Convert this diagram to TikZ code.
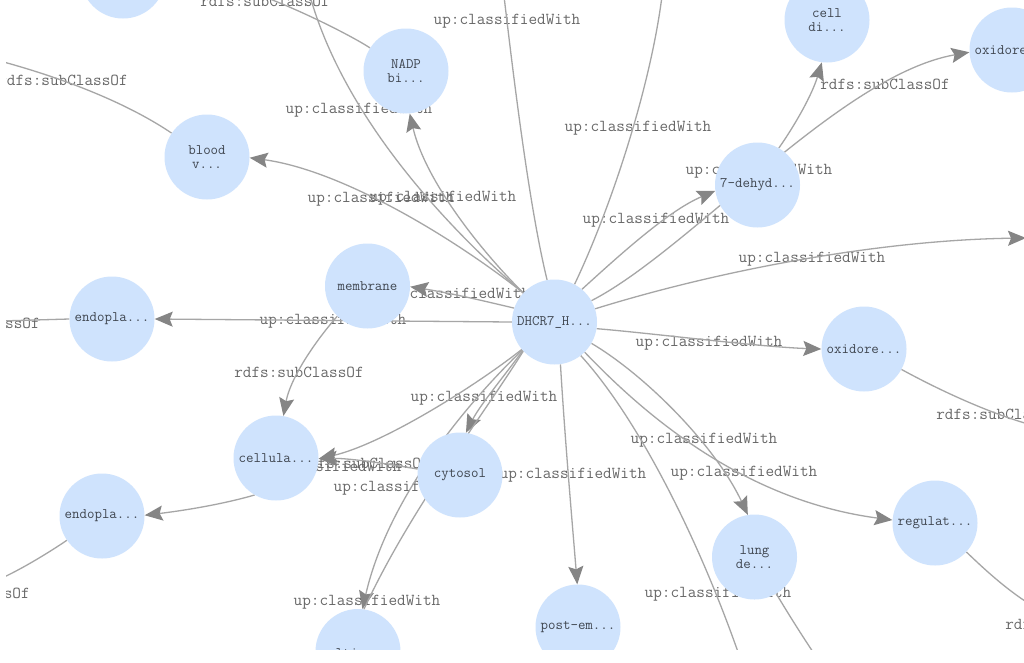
\documentclass[tikz,border=0pt]{standalone}
\usetikzlibrary{arrows.meta}
\pgfdeclarelayer{edgelayer}
\pgfdeclarelayer{masklayer}
\pgfsetlayers{edgelayer,main,masklayer}
\definecolor{nodeblue}{HTML}{CFE3FD}
\definecolor{edgegray}{HTML}{A6A6A6}
\definecolor{tipgray}{HTML}{858585}
\definecolor{labelgray}{HTML}{686868}
\definecolor{nodetext}{HTML}{3F4650}
\tikzset{
  ball/.style={circle,fill=nodeblue,draw=none,minimum size=85pt,inner sep=0pt,align=center,
    font=\ttfamily\fontsize{14.5}{13.5}\selectfont,text=nodetext},
  link/.style={draw=edgegray,line width=1.3pt},
  arr/.style={link,-{Stealth[length=18pt,width=15pt,inset=3pt,color=tipgray]}},
  elabel/.style={font=\ttfamily\fontsize{16.75}{15}\selectfont,text=labelgray,inner sep=0pt}
}
\begin{document}
\begin{tikzpicture}[x=1pt,y=-1pt]
\path[use as bounding box] (0,0) rectangle (1024,662);
% nodes
\node[ball] (dhcr) at (554.5,322) {DHCR7\_H...};
\node[ball] (memb) at (367.5,286) {membrane};
\node[ball] (blood) at (207,157) {blood\\v...};
\node[ball] (nadp) at (406,71) {NADP\\bi...};
\node[ball] (endoa) at (112,319) {endopla...};
\node[ball] (cellu) at (276,458) {cellula...};
\node[ball] (cyto) at (460,475) {cytosol};
\node[ball] (endob) at (102,516) {endopla...};
\node[ball] (topl) at (123,-24) {};
\node[ball] (celldi) at (827,20) {cell\\di...};
\node[ball] (oxia) at (1012,50) {oxidore...};
\node[ball] (dehyd) at (757.5,185) {7-dehyd...};
\node[ball] (oxib) at (864,349) {oxidore...};
\node[ball] (regul) at (935,523) {regulat...};
\node[ball] (lung) at (754.5,557) {lung\\de...};
\node[ball] (postem) at (578,627) {post-em...};
\node[ball] (multi) at (358,651.5) {\raisebox{-6pt}[0pt][0pt]{multice...}};
% free ends
\coordinate (fa) at (310,-4);
\coordinate (fb) at (504,-4);
\coordinate (fc) at (662,-4);
\coordinate (fd) at (1026,238);
\coordinate (fe) at (738,652);
\coordinate (ff) at (813,652);
\coordinate (fg) at (262,-4);
\coordinate (fh) at (0,61);
\coordinate (fi) at (0,321);
\coordinate (fj) at (0,579);
\coordinate (fk) at (1028,424);
\coordinate (fl) at (1028,603);
\begin{pgfonlayer}{edgelayer}
\fill[white] (0,0) rectangle (1024,662);
% labels
\foreach \x/\y in {507/21,359/110,638/128,759/171,656/220,812/259,709/343,381/199,443/198,457/295,333/321,484/398,328/468,407/488,573/475,704/440,744/473,718/594,367/602}
  \node[elabel] at (\x,\y) {up:classifiedWith};
\foreach \x/\y in {265/1,63/80,299/372,365/463,885/84,1001/414,1070/624,-25/323,-35/593}
  \node[elabel] at (\x,\y) {rdfs:subClassOf};
% edges from the centre
\draw[arr] (dhcr.161) .. controls (480,300) and (450,293) .. (memb.-1);
\draw[arr] (dhcr.180) -- (endoa.0);
\draw[arr] (dhcr.137) .. controls (450,235) and (340,170) .. (blood.-1);
\draw[arr] (dhcr.137) .. controls (480,250) and (425,180) .. (nadp.-85);
\draw[link] (dhcr.137) .. controls (450,230) and (345,120) .. (fa);
\draw[link] (dhcr.100) .. controls (530,210) and (515,90) .. (fb);
\draw[link] (dhcr.62) .. controls (610,210) and (650,90) .. (fc);
\draw[arr] (dhcr.50) .. controls (625,250) and (670,210) .. (dehyd.188);
\draw[arr] (dhcr.30) .. controls (690,250) and (840,75) .. (oxia.183);
\draw[arr] (dhcr.18) .. controls (720,270) and (880,240) .. (fd);
\draw[arr] (dhcr.-9) .. controls (650,333) and (760,347) .. (oxib.180);
\draw[arr] (dhcr.-45) .. controls (640,410) and (740,500) .. (regul.176);
\draw[arr] (dhcr.-30) .. controls (645,375) and (715,445) .. (lung.99);
\draw[link] (dhcr.-52) .. controls (635,415) and (695,530) .. (fe);
\draw[arr] (dhcr.-82) .. controls (565,440) and (572,520) .. (postem.91);
\draw[arr] (dhcr.222) .. controls (505,375) and (480,405) .. (cyto.82);
\draw[arr] (dhcr.220) .. controls (470,390) and (380,445) .. (cellu.-1);
\draw[arr] (dhcr.221) .. controls (450,420) and (385,510) .. (multi.84);
\draw[link] (dhcr.223) .. controls (480,420) and (410,510) .. (multi.82);
% other edges
\draw[arr] (dehyd.60) .. controls (795,125) and (812,95) .. (celldi.263);
\draw[arr] (memb.225) .. controls (312,345) and (290,380) .. (cellu.80);
\draw[arr] (cyto.172) .. controls (395,465) and (350,458) .. (cellu.-1);
\draw[arr] (cellu.240) .. controls (220,505) and (180,511) .. (endob.1);
\draw[link] (nadp) .. controls (350,35) and (300,10) .. (fg);
\draw[link] (blood) .. controls (130,105) and (70,80) .. (fh);
\draw[link] (endoa.180) -- (fi);
\draw[link] (endob) .. controls (60,545) and (30,565) .. (fj);
\draw[link] (oxib) .. controls (930,385) and (980,410) .. (fk);
\draw[link] (regul) .. controls (975,560) and (1000,585) .. (fl);
\draw[link] (lung) .. controls (780,600) and (795,625) .. (ff);
\end{pgfonlayer}
\begin{pgfonlayer}{masklayer}
\fill[white] (-2,650) rectangle (1026,680);
\fill[white] (-2,-2) rectangle (6,680);
\end{pgfonlayer}
\end{tikzpicture}
\end{document}
